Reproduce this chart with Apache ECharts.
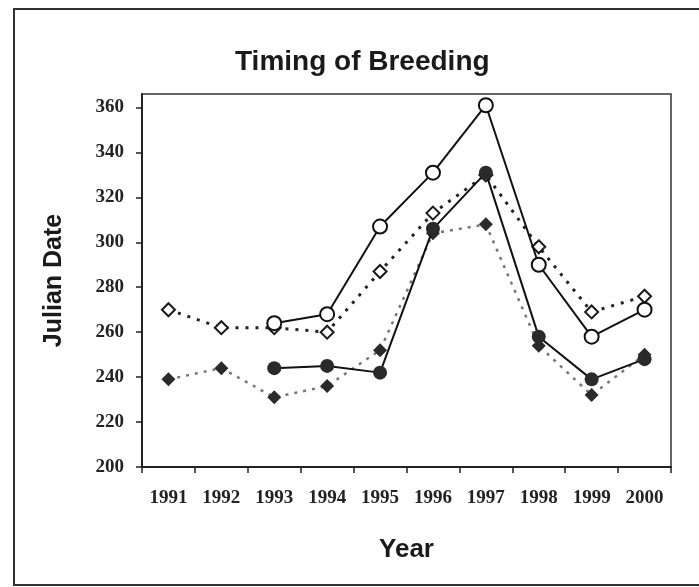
<!DOCTYPE html>
<html>
<head>
<meta charset="utf-8">
<title>Timing of Breeding</title>
<script src="https://cdn.jsdelivr.net/npm/echarts@6/dist/echarts.min.js"></script>
<style>
  html, body { margin: 0; padding: 0; background: #fff; }
  #demo { width: 699px; height: 587px; }
</style>
</head>
<body>
<div id="demo"></div>
<script>
// data
var years = ['1991', '1992', '1993', '1994', '1995', '1996', '1997', '1998', '1999', '2000'];
var openCircle   = [null, null, 264, 268, 307, 331, 361, 290, 258, 270];
var openDiamond  = [270, 262, 262, 260, 287, 313, 330, 298, 269, 276];
var fillCircle   = [null, null, 244, 245, 242, 306, 331, 258, 239, 248];
var fillDiamond  = [239, 244, 231, 236, 252, 304, 308, 254, 232, 250];
var yTicks = [200, 220, 240, 260, 280, 300, 320, 340, 360];

var myChart = echarts.init(document.getElementById('demo'));

var tickFont = {
    fontFamily: '"Liberation Serif", "DejaVu Serif", serif',
    fontSize: 19,
    fontWeight: 'bold',
    color: '#222'
};

option = {
    backgroundColor: '#fff',
    animation: false,
    title: {
        text: 'Timing of Breeding',
        left: 230,
        top: 43,
        textStyle: {
            fontFamily: '"Liberation Sans", Arial, sans-serif',
            fontSize: 28,
            fontWeight: 'bold',
            color: '#1a1a1a'
        }
    },
    // outer frame of the figure
    graphic: [{
        type: 'rect',
        shape: { x: 14, y: 9, width: 700, height: 576 },
        style: { fill: null, stroke: '#333', lineWidth: 2 },
        silent: true
    }],
    grid: {
        left: 142,
        right: 28,
        top: 94,
        bottom: 120,
        show: true,
        borderColor: '#333',
        borderWidth: 1.5
    },
    xAxis: {
        type: 'category',
        data: years,
        boundaryGap: true,
        name: 'Year',
        nameLocation: 'middle',
        nameGap: 70,
        nameTextStyle: {
            fontFamily: '"Liberation Sans", Arial, sans-serif',
            fontSize: 26,
            fontWeight: 'bold',
            color: '#1a1a1a'
        },
        axisLine: { lineStyle: { color: '#222', width: 2 } },
        axisTick: { show: true, length: 6, lineStyle: { color: '#222', width: 1.5 } },
        axisLabel: Object.assign({ margin: 22, interval: 0 }, tickFont),
        splitLine: { show: false }
    },
    yAxis: {
        type: 'value',
        min: 200,
        max: 366,
        interval: 20,
        name: 'Julian Date',
        nameLocation: 'middle',
        nameGap: 75,
        nameRotate: 90,
        nameTextStyle: {
            fontFamily: '"Liberation Sans", Arial, sans-serif',
            fontSize: 25,
            fontWeight: 'bold',
            color: '#1a1a1a'
        },
        axisLine: { show: true, lineStyle: { color: '#222', width: 2 } },
        axisTick: { show: true, length: 6, lineStyle: { color: '#222', width: 1.5 } },
        axisLabel: Object.assign({
            margin: 18,
            showMaxLabel: false,
            formatter: function (v) {
                return yTicks.indexOf(v) >= 0 ? String(v) : '';
            }
        }, tickFont),
        splitLine: { show: false }
    },
    series: [
        {
            name: 'Filled diamonds',
            type: 'line',
            data: fillDiamond,
            symbol: 'diamond',
            symbolSize: 14,
            itemStyle: { color: '#2a2a2a' },
            lineStyle: { color: '#777', width: 2.5, type: [3, 6] },
            z: 2
        },
        {
            name: 'Open diamonds',
            type: 'line',
            data: openDiamond,
            symbol: 'emptyDiamond',
            symbolSize: 13,
            itemStyle: { color: '#1a1a1a', borderWidth: 2 },
            lineStyle: { color: '#222', width: 3, type: [3, 7] },
            z: 3
        },
        {
            name: 'Filled circles',
            type: 'line',
            data: fillCircle,
            symbol: 'circle',
            symbolSize: 14,
            itemStyle: { color: '#2a2a2a' },
            lineStyle: { color: '#111', width: 2 },
            z: 4
        },
        {
            name: 'Open circles',
            type: 'line',
            data: openCircle,
            symbol: 'emptyCircle',
            symbolSize: 14,
            itemStyle: { color: '#111', borderWidth: 2 },
            lineStyle: { color: '#111', width: 2 },
            z: 5
        }
    ]
};

myChart.setOption(option);
</script>
</body>
</html>
